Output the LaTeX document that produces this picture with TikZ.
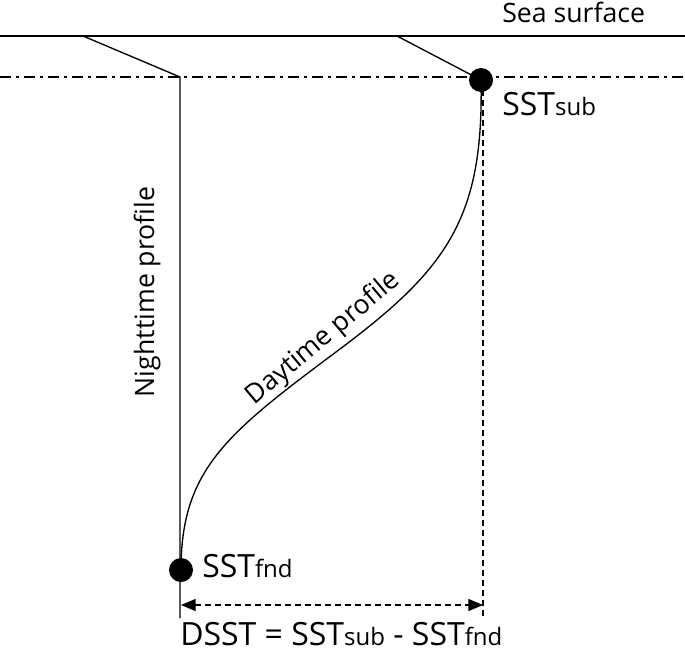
\documentclass[tikz,border=0pt]{standalone}
\usepackage{fontspec}
\setmainfont{Open Sans}
\usepackage{tikz}
\usetikzlibrary{arrows.meta, positioning, calc}
\newcommand{\subtxt}[1]{{\fontsize{18}{20}\selectfont #1}}
\tikzset{
    base_line/.style={draw=black, line width=1pt},
    surf_line/.style={draw=black, line width=1.3pt},
    mix_line/.style={draw=black, line width=1pt,
        dash pattern=on 8pt off 4pt on 2pt off 4pt},
    dash_line/.style={draw=black, line width=1pt, dash pattern=on 4.5pt off 3pt},
    dot_marker/.style={circle, fill=black, inner sep=0pt, minimum size=18pt},
    lbl_small/.style={font=\fontsize{20}{22}\selectfont, inner sep=0pt},
    lbl_big/.style={font=\fontsize{24}{28}\selectfont, inner sep=0pt}
}
\begin{document}
\begin{tikzpicture}[x=0.75pt, y=-0.75pt]
    \useasboundingbox (0,0) rectangle (685,650);

    % Reference levels
    \coordinate (seaL) at (0,36);
    \coordinate (seaR) at (685,36);
    \coordinate (mixL) at (0,77);
    \coordinate (mixR) at (685,77);
    \draw[surf_line] (seaL) -- (seaR);
    \draw[mix_line] (mixL) -- (mixR);
    \node[lbl_small, anchor=base west] (seaLbl) at (502,22) {Sea surface};

    % Temperature markers
    \node[dot_marker] (sub) at (481,80) {};
    \node[dot_marker] (fnd) at (181,570) {};
    \node[lbl_big, anchor=base west] (subLbl) at (502,115) {SST\subtxt{sub}};
    \node[lbl_big, anchor=base west] (fndLbl) at (202,577) {SST\subtxt{fnd}};

    % Nighttime profile
    \coordinate (nightTop) at (83,36);
    \coordinate (nightKnee) at (180,77);
    \coordinate (nightFoot) at (180,618);
    \draw[base_line] (nightTop) -- (nightKnee) -- (nightFoot);
    \node[lbl_small, rotate=90, anchor=base] (nightLbl) at (154,292) {Nighttime profile};

    % Daytime profile
    \coordinate (dayTop) at (397,36);
    \coordinate (inflect) at (336,352);
    \draw[base_line] (dayTop) -- (sub.center);
    \draw[base_line] (sub.center) .. controls (484,220) and (446,270) .. (inflect)
        .. controls (226,434) and (181,470) .. (fnd.center);
    \node[lbl_small, rotate=40, anchor=base] (dayLbl) at (328,344) {Daytime profile};

    % Difference between the two levels
    \coordinate (subFoot) at (483,616);
    \coordinate (arrL) at (181,605);
    \coordinate (arrR) at (483,605);
    \draw[dash_line] (sub.center) ++(2,0) coordinate (subDrop) (subDrop) -- (subFoot);
    \draw[dash_line, {Triangle[length=11pt, width=9pt]}-{Triangle[length=11pt, width=9pt]}] (arrL) -- (arrR);
    \node[lbl_big, anchor=base west] (dsstLbl) at (180,645) {DSST = SST\subtxt{sub} - SST\subtxt{fnd}};
\end{tikzpicture}
\end{document}
